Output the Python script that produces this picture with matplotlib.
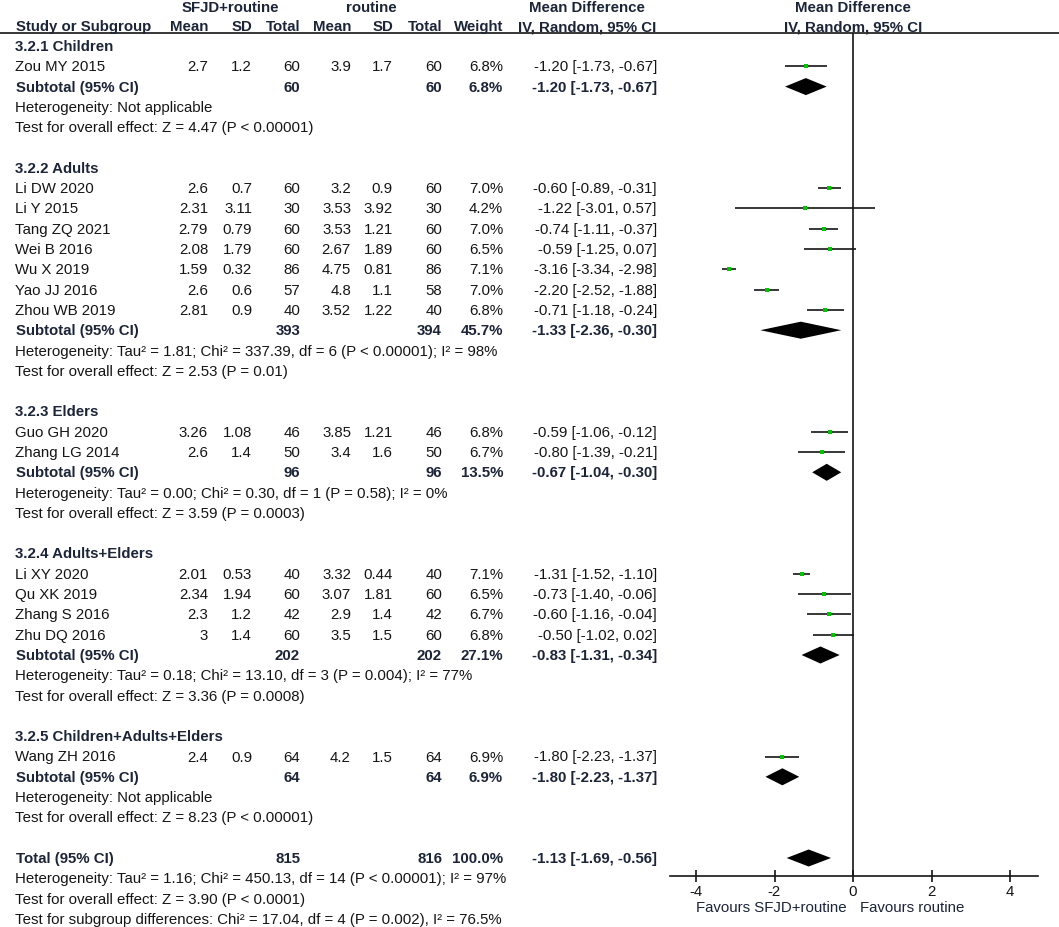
import matplotlib
matplotlib.use("Agg")
import matplotlib.pyplot as plt
import numpy as np

plt.rcParams['font.family'] = ['Liberation Sans', 'DejaVu Sans']

# ---------------- data ----------------
subgroups = ["3.2.1 Children", "3.2.2 Adults", "3.2.3 Elders",
             "3.2.4 Adults+Elders", "3.2.5 Children+Adults+Elders"]

study_names = ["Zou MY 2015",
               "Li DW 2020", "Li Y 2015", "Tang ZQ 2021", "Wei B 2016",
               "Wu X 2019", "Yao JJ 2016", "Zhou WB 2019",
               "Guo GH 2020", "Zhang LG 2014",
               "Li XY 2020", "Qu XK 2019", "Zhang S 2016", "Zhu DQ 2016",
               "Wang ZH 2016"]
study_group = [0, 1, 1, 1, 1, 1, 1, 1, 2, 2, 3, 3, 3, 3, 4]
mean1 = [2.7, 2.6, 2.31, 2.79, 2.08, 1.59, 2.6, 2.81, 3.26, 2.6, 2.01, 2.34, 2.3, 3, 2.4]
sd1 = [1.2, 0.7, 3.11, 0.79, 1.79, 0.32, 0.6, 0.9, 1.08, 1.4, 0.53, 1.94, 1.2, 1.4, 0.9]
n1 = [60, 60, 30, 60, 60, 86, 57, 40, 46, 50, 40, 60, 42, 60, 64]
mean2 = [3.9, 3.2, 3.53, 3.53, 2.67, 4.75, 4.8, 3.52, 3.85, 3.4, 3.32, 3.07, 2.9, 3.5, 4.2]
sd2 = [1.7, 0.9, 3.92, 1.21, 1.89, 0.81, 1.1, 1.22, 1.21, 1.6, 0.44, 1.81, 1.4, 1.5, 1.5]
n2 = [60, 60, 30, 60, 60, 86, 58, 40, 46, 50, 40, 60, 42, 60, 64]
weight = [6.8, 7.0, 4.2, 7.0, 6.5, 7.1, 7.0, 6.8, 6.8, 6.7, 7.1, 6.5, 6.7, 6.8, 6.9]
md = [-1.20, -0.60, -1.22, -0.74, -0.59, -3.16, -2.20, -0.71, -0.59, -0.80,
      -1.31, -0.73, -0.60, -0.50, -1.80]
ci_lo = [-1.73, -0.89, -3.01, -1.11, -1.25, -3.34, -2.52, -1.18, -1.06, -1.39,
         -1.52, -1.40, -1.16, -1.02, -2.23]
ci_hi = [-0.67, -0.31, 0.57, -0.37, 0.07, -2.98, -1.88, -0.24, -0.12, -0.21,
         -1.10, -0.06, -0.04, 0.02, -1.37]

sub_n1 = [60, 393, 96, 202, 64]
sub_n2 = [60, 394, 96, 202, 64]
sub_w = [6.8, 45.7, 13.5, 27.1, 6.9]
sub_md = [-1.20, -1.33, -0.67, -0.83, -1.80]
sub_lo = [-1.73, -2.36, -1.04, -1.31, -2.23]
sub_hi = [-0.67, -0.30, -0.30, -0.34, -1.37]
sub_het = ["Heterogeneity: Not applicable",
           "Heterogeneity: Tau² = 1.81; Chi² = 337.39, df = 6 (P < 0.00001); I² = 98%",
           "Heterogeneity: Tau² = 0.00; Chi² = 0.30, df = 1 (P = 0.58); I² = 0%",
           "Heterogeneity: Tau² = 0.18; Chi² = 13.10, df = 3 (P = 0.004); I² = 77%",
           "Heterogeneity: Not applicable"]
sub_test = ["Test for overall effect: Z = 4.47 (P < 0.00001)",
            "Test for overall effect: Z = 2.53 (P = 0.01)",
            "Test for overall effect: Z = 3.59 (P = 0.0003)",
            "Test for overall effect: Z = 3.36 (P = 0.0008)",
            "Test for overall effect: Z = 8.23 (P < 0.00001)"]

total_n1, total_n2, total_w = 815, 816, 100.0
total_md, total_lo, total_hi = -1.13, -1.69, -0.56
total_lines = ["Heterogeneity: Tau² = 1.16; Chi² = 450.13, df = 14 (P < 0.00001); I² = 97%",
               "Test for overall effect: Z = 3.90 (P < 0.0001)",
               "Test for subgroup differences: Chi² = 17.04, df = 4 (P = 0.002), I² = 76.5%"]

x_ticks = [-4, -2, 0, 2, 4]
favours_left = "Favours SFJD+routine"
favours_right = "Favours routine"

# ---------------- layout ----------------
W, H = 1059, 928
ROW0, ROWH = 47.0, 20.3          # pixel y of first row, row height


def r(ypx):
    return (ypx - ROW0) / ROWH


FS = 10.8
TXT = '#151515'
BTXT = '#1c2438'
GREEN = '#00c400'
LINE = '#151515'

fig = plt.figure(figsize=(W / 100, H / 100), dpi=100)
axt = fig.add_axes([0, 0, 1, 1])
axt.set_xlim(0, W)
axt.set_ylim(r(H), r(0))
axt.axis('off')

# plot axes
PX_L, PX_R, PX_T, PX_B = 670, 1038, 34, 877
ZERO_PX, UNIT_PX = 853, 39.25
axp = fig.add_axes([PX_L / W, (H - PX_B) / H, (PX_R - PX_L) / W, (PX_B - PX_T) / H])
axp.set_xlim((PX_L - ZERO_PX) / UNIT_PX, (PX_R - ZERO_PX) / UNIT_PX)
axp.set_ylim(r(PX_B), r(PX_T))
axp.patch.set_alpha(0)
for s in ['top', 'right', 'left']:
    axp.spines[s].set_visible(False)
axp.spines['bottom'].set_linewidth(1.2)
axp.spines['bottom'].set_color(LINE)
axp.set_yticks([])
axp.set_xticks(x_ticks)
axp.set_xticklabels([str(t) for t in x_ticks])
axp.tick_params(axis='x', direction='inout', length=8, width=1.2, colors=LINE,
                labelsize=FS, pad=1.5)
axp.axvline(0, color=LINE, lw=1.2)

# column x positions (right edges)
X_NAME = 15
X_M1, X_SD1, X_N1 = 208, 252, 300
X_M2, X_SD2, X_N2 = 351, 393, 442
X_W, X_CI = 503, 657


def t(x, y, s, ha='left', bold=False):
    axt.text(x, y, s, ha=ha, va='center', fontsize=FS,
             fontweight='bold' if bold else 'normal',
             color=BTXT if bold else TXT)


# headers
hy1, hy2 = r(7.5), r(27)
t(230, hy1, "SFJD+routine", ha='center', bold=True)
t(371, hy1, "routine", ha='center', bold=True)
t(587, hy1, "Mean Difference", ha='center', bold=True)
t(853, hy1, "Mean Difference", ha='center', bold=True)
t(16, hy2, "Study or Subgroup", bold=True)
for x, s in [(X_M1, "Mean"), (X_SD1, "SD"), (X_N1, "Total"), (X_M2, "Mean"),
             (X_SD2, "SD"), (X_N2, "Total"), (X_W, "Weight")]:
    t(x, hy2, s, ha='right', bold=True)
t(587, hy2, "IV, Random, 95% CI", ha='center', bold=True)
t(853, hy2, "IV, Random, 95% CI", ha='center', bold=True)
axt.plot([0, W], [r(34), r(34)], color=LINE, lw=1.2)


def fmt(v):
    return f"{v:g}"


def diamond(y, lo, mid, hi, h=0.42):
    axp.fill([lo, mid, hi, mid], [y, y - h, y, y + h], color='black', lw=0)


row = 0
for g, gname in enumerate(subgroups):
    t(X_NAME, row, gname, bold=True)
    row += 1
    for i in range(len(study_names)):
        if study_group[i] != g:
            continue
        t(X_NAME, row, study_names[i])
        t(X_M1, row, fmt(mean1[i]), ha='right')
        t(X_SD1, row, fmt(sd1[i]), ha='right')
        t(X_N1, row, str(n1[i]), ha='right')
        t(X_M2, row, fmt(mean2[i]), ha='right')
        t(X_SD2, row, fmt(sd2[i]), ha='right')
        t(X_N2, row, str(n2[i]), ha='right')
        t(X_W, row, f"{weight[i]:.1f}%", ha='right')
        t(X_CI, row, f"{md[i]:.2f} [{ci_lo[i]:.2f}, {ci_hi[i]:.2f}]", ha='right')
        axp.plot([ci_lo[i], ci_hi[i]], [row, row], color=LINE, lw=1.2,
                 solid_capstyle='butt')
        axp.plot(md[i], row, marker='s', ms=3.4 * (weight[i] / 7.0) ** 0.25,
                 color=GREEN, mec=GREEN, mew=0, snap=False)
        row += 1
    t(16, row, "Subtotal (95% CI)", bold=True)
    t(X_N1, row, str(sub_n1[g]), ha='right', bold=True)
    t(X_N2, row, str(sub_n2[g]), ha='right', bold=True)
    t(X_W, row, f"{sub_w[g]:.1f}%", ha='right', bold=True)
    t(X_CI, row, f"{sub_md[g]:.2f} [{sub_lo[g]:.2f}, {sub_hi[g]:.2f}]", ha='right', bold=True)
    diamond(row, sub_lo[g], sub_md[g], sub_hi[g])
    row += 1
    t(X_NAME, row, sub_het[g])
    row += 1
    t(X_NAME, row, sub_test[g])
    row += 2

t(16, row, "Total (95% CI)", bold=True)
t(X_N1, row, str(total_n1), ha='right', bold=True)
t(X_N2, row, str(total_n2), ha='right', bold=True)
t(X_W, row, f"{total_w:.1f}%", ha='right', bold=True)
t(X_CI, row, f"{total_md:.2f} [{total_lo:.2f}, {total_hi:.2f}]", ha='right', bold=True)
diamond(row, total_lo, total_md, total_hi)
row += 1
for s in total_lines:
    t(X_NAME, row, s)
    row += 1

# favours labels
fy = r(908)
axt.text(847, fy, favours_left, ha='right', va='center', fontsize=FS, color=BTXT)
axt.text(860, fy, favours_right, ha='left', va='center', fontsize=FS, color=BTXT)

fig.savefig("out.png", dpi=100, facecolor='white')
